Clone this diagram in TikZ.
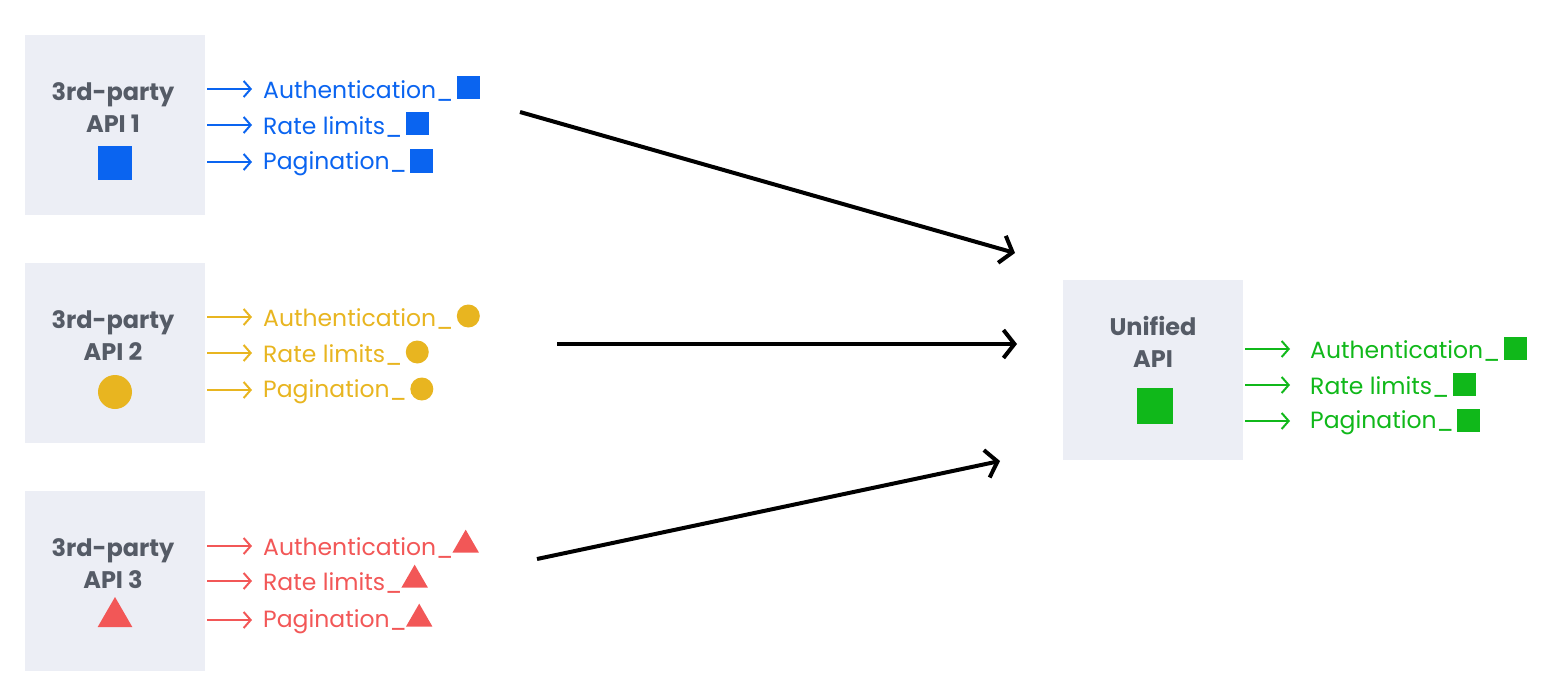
\documentclass[tikz,border=0pt]{standalone}
\usepackage{fontspec}
\setmainfont{Poppins}
\usetikzlibrary{arrows.meta,shapes.geometric}
\definecolor{cb}{HTML}{0A64F0}
\definecolor{cy}{HTML}{E8B520}
\definecolor{cr}{HTML}{F25757}
\definecolor{cg}{HTML}{10B81A}
\definecolor{bx}{HTML}{ECEEF5}
\definecolor{tx}{HTML}{555B66}
\begin{document}
\begin{tikzpicture}[x=1pt,y=-1pt,
  box/.style={fill=bx,draw=none,minimum width=180pt,minimum height=180pt,inner sep=0},
  title/.style={font=\fontsize{24}{32}\selectfont\bfseries,text=tx,align=center},
  lbl/.style={anchor=west,font=\fontsize{23.5}{28}\selectfont,inner sep=0},
  sm/.style={line width=2pt,-{Straight Barb[length=7pt,width=16pt]}},
  big/.style={line width=4pt,-{Straight Barb[length=11pt,width=28pt]}},
  sq/.style={rectangle,minimum size=#1,inner sep=0},
  ci/.style={circle,minimum size=#1,inner sep=0},
  tr/.style={isosceles triangle,isosceles triangle apex angle=60,shape border rotate=90,minimum size=#1,inner sep=0}]
\useasboundingbox (0,0) rectangle (1566,698);
\node[box] (b1) at (115,125) {};
\node[box] (b2) at (115,353) {};
\node[box] (b3) at (115,581) {};
\node[box] (b4) at (1153,370) {};
\node[title] (t1) at (113,108) {3rd-party\\API 1};
\node[title] (t2) at (113,336) {3rd-party\\API 2};
\node[title] (t3) at (113,564) {3rd-party\\API 3};
\node[title] (t4) at (1153,342) {Unified\\API};
\node[sq=34pt,fill=cb] (m1) at (115,163) {};
\node[ci=34pt,fill=cy] (m2) at (115,392) {};
\node[tr=30pt,fill=cr] (m3) at (115,617) {};
\node[sq=36pt,fill=cg] (m4) at (1155,406) {};
\foreach \c/\m/\x/\y/\g/\txt [count=\i] in {
 cb/sq/207/89/56/Authentication\_,cb/sq/207/125/56/Rate limits\_,cb/sq/207/162/56/Pagination\_,
 cy/ci/207/317/56/Authentication\_,cy/ci/207/353/56/Rate limits\_,cy/ci/207/390/56/Pagination\_,
 cr/tr/207/546/56/Authentication\_,cr/tr/207/581/56/Rate limits\_,cr/tr/207/620/56/Pagination\_,
 cg/sq/1245/349/65/Authentication\_,cg/sq/1245/385/65/Rate limits\_,cg/sq/1245/421/65/Pagination\_}{
 \coordinate (s\i) at (\x,\y);
 \coordinate (e\i) at (\x+45,\y);
 \draw[sm,\c] (s\i) -- (e\i);
 \node[lbl,text=\c] (l\i) at (\x+\g,\y+2) {\txt};
 \node[\m=23pt,fill=\c,anchor=west] (k\i) at ([xshift=3pt,yshift=3pt]l\i.east) {};
}
\coordinate (f1) at (520,112); \coordinate (g1) at (1015,253);
\coordinate (f2) at (557,344); \coordinate (g2) at (1017,344);
\coordinate (f3) at (537,559); \coordinate (g3) at (1000,461);
\draw[big] (f1) -- (g1);
\draw[big] (f2) -- (g2);
\draw[big] (f3) -- (g3);
\end{tikzpicture}
\end{document}
